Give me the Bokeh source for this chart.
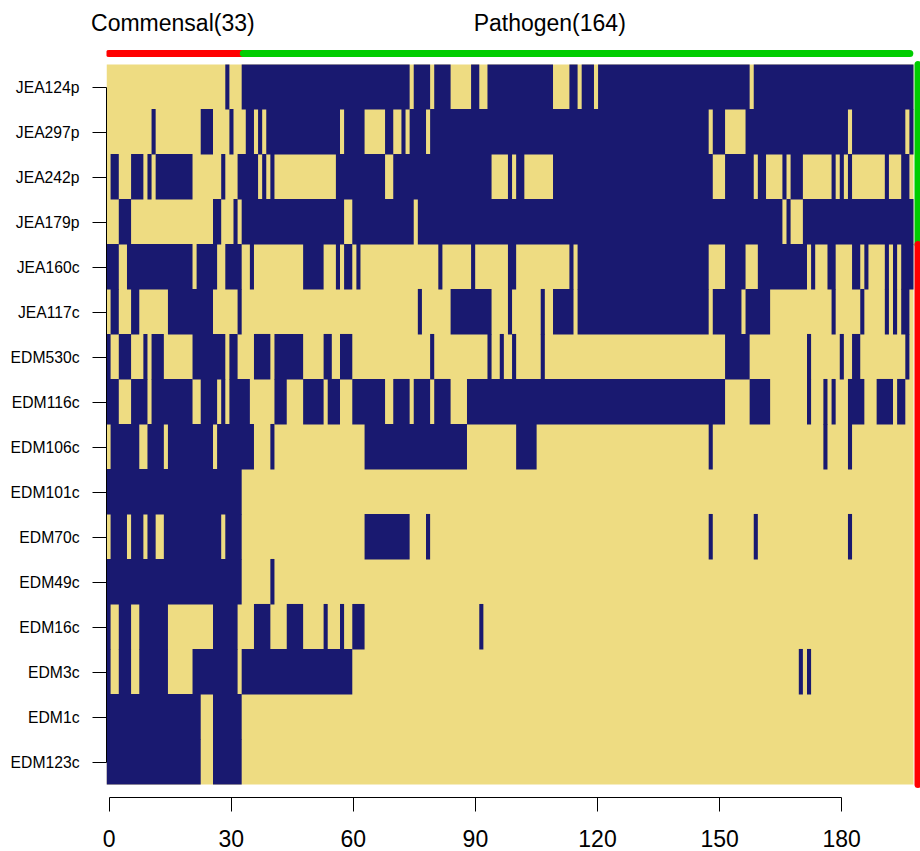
from bokeh.plotting import figure
from bokeh.models import Range1d, LinearAxis, FixedTicker, ColumnDataSource
from bokeh.embed import file_html
from bokeh.resources import INLINE

row_labels = ["JEA124p", "JEA297p", "JEA242p", "JEA179p", "JEA160c", "JEA117c", "EDM530c", "EDM116c",
              "EDM106c", "EDM101c", "EDM70c", "EDM49c", "EDM16c", "EDM3c", "EDM1c", "EDM123c"]
n_cols = 197
n_commensal = 33
x_ticks = [0, 30, 60, 90, 120, 150, 180]
group_labels = ["Commensal(33)", "Pathogen(164)"]
group_label_cols = [16.2, 108.2]

# columns (start, end) of the dark cells, one list per row
JEA124p = [(29,30),(33,74),(75,79),(80,84),(89,91),(93,109),(113,115),(116,119),(120,157),(158,197)]
JEA297p = [(11,12),(23,26),(30,31),(34,36),(37,38),(39,57),(58,63),(68,70),(72,73),(74,78),(79,147),(148,151),(156,181),(182,195),(196,197)]
JEA242p = [(1,3),(6,9),(10,11),(12,21),(28,29),(32,37),(38,39),(40,41),(56,68),(70,94),(98,99),(100,102),(109,148),(151,158),(159,161),(165,166),(167,170),(177,178),(179,180),(181,182),(190,191),(194,196)]
JEA179p = [(3,6),(26,28),(31,32),(33,58),(60,75),(76,165),(166,167),(170,197)]
JEA160c = [(0,3),(5,21),(22,27),(29,33),(35,36),(48,53),(56,57),(58,60),(61,62),(81,82),(89,90),(98,100),(113,114),(115,147),(151,156),(159,171),(172,173),(176,178),(182,184),(185,186),(190,191),(192,193),(194,197)]
JEA117c = [(1,3),(6,8),(15,26),(32,33),(76,77),(84,94),(98,99),(106,107),(109,114),(115,147),(148,155),(156,162),(177,178),(184,185),(190,191),(192,193),(194,196)]
EDM530c = [(0,1),(3,6),(9,10),(11,14),(21,29),(30,32),(36,40),(41,48),(53,55),(57,60),(79,80),(93,94),(96,97),(99,100),(106,107),(151,157),(171,172),(179,180),(182,184),(195,196)]
EDM116c = [(0,3),(6,10),(11,21),(23,27),(28,29),(30,35),(41,44),(48,53),(54,57),(60,68),(70,74),(75,79),(80,84),(88,151),(157,162),(171,172),(175,176),(177,178),(181,185),(188,192),(193,195)]
EDM106c = [(1,8),(10,14),(15,26),(27,36),(40,41),(63,88),(100,105),(147,148),(175,176),(181,182)]
EDM101c = [(0,33)]
EDM70c = [(1,5),(6,9),(10,12),(14,28),(29,33),(63,74),(78,79),(147,148),(158,159),(181,182)]
EDM49c = [(0,33),(40,41)]
EDM16c = [(0,1),(3,6),(8,15),(26,32),(36,40),(44,48),(53,54),(57,58),(60,63),(91,92)]
EDM3c = [(0,1),(3,6),(8,15),(21,32),(33,60),(169,170),(171,172)]
EDM1c = [(0,23),(26,33)]
EDM123c = [(0,23),(26,33)]
rows = [JEA124p, JEA297p, JEA242p, JEA179p, JEA160c, JEA117c, EDM530c, EDM116c,
        EDM106c, EDM101c, EDM70c, EDM49c, EDM16c, EDM3c, EDM1c, EDM123c]

NAVY = "#191970"
GOLD = "#EEDC82"
RED = "#FF0000"
GREEN = "#00CD00"
FONT = "Liberation Sans"

n_rows = len(rows)
col_px = 807 / n_cols
frame_w, frame_h = 814, 757
row_px = 45

p = figure(frame_width=frame_w, frame_height=frame_h, width=920, height=851,
           output_backend="svg", toolbar_location=None,
           x_axis_location=None, y_axis_location=None,
           x_range=Range1d(0, frame_w / col_px),
           y_range=Range1d(-13 / row_px, n_rows + 24 / row_px),
           min_border_left=106, min_border_right=0, min_border_top=40, min_border_bottom=0)
p.grid.visible = False
p.outline_line_color = None
p.background_fill_color = "white"
p.border_fill_color = "white"

# heatmap
p.quad(left=[0], right=[n_cols], bottom=[0], top=[n_rows], fill_color=GOLD, line_color=None)
l, r, b, t = [], [], [], []
seam = 0.012
for i, runs in enumerate(rows):
    for s, e in runs:
        l.append(s); r.append(e); b.append(n_rows - i - 1)
        t.append(n_rows - i + (seam if i else 0))
p.quad(source=ColumnDataSource(dict(l=l, r=r, b=b, t=t)),
       left="l", right="r", bottom="b", top="t", fill_color=NAVY, line_color=None)

# class bars
bar_y = (784 - 53) / row_px
p.line([0.6, n_commensal + 1], [bar_y, bar_y], line_color=RED, line_width=7, line_cap="round")
p.line([n_commensal + 0.4, n_cols - 0.9], [bar_y, bar_y], line_color=GREEN, line_width=7, line_cap="round")
side_x = n_cols + 4.5 / col_px
p.line([side_x, side_x], [12, n_rows], line_color=GREEN, line_width=7, line_cap="round")
p.line([side_x, side_x], [0, 12], line_color=RED, line_width=7, line_cap="round")

# group titles, as a bare axis above the frame
ta = LinearAxis(ticker=FixedTicker(ticks=group_label_cols))
ta.major_label_overrides = {c: s for c, s in zip(group_label_cols, group_labels)}
ta.axis_line_color = None
ta.major_tick_line_color = None
ta.minor_tick_line_color = None
ta.major_tick_out = 0
ta.major_tick_in = 0
ta.minor_tick_out = 0
ta.minor_tick_in = 0
ta.major_label_standoff = 5
ta.major_label_orientation = "horizontal"
ta.major_label_text_font = FONT
ta.major_label_text_font_size = "23px"
ta.major_label_text_color = "black"
p.add_layout(ta, "above")

# axes
ax_px = 4.07
p.extra_x_ranges["ax"] = Range1d(-2.6 / ax_px, (frame_w - 2.6) / ax_px)
xa = LinearAxis(x_range_name="ax", ticker=FixedTicker(ticks=x_ticks), bounds=(0, 180))
xa.major_tick_out = 14
xa.major_tick_in = 0
xa.minor_tick_out = 0
xa.minor_tick_in = 0
xa.major_label_standoff = 18
xa.major_label_text_font = FONT
xa.major_label_text_font_size = "23px"
xa.major_label_text_color = "black"
xa.axis_line_color = "black"
xa.major_tick_line_color = "black"
p.add_layout(xa, "below")

centers = [n_rows - i - 0.5 for i in range(n_rows)]
ya = LinearAxis(ticker=FixedTicker(ticks=centers), bounds=(centers[-1], centers[0]))
ya.major_label_overrides = {c: lab for c, lab in zip(centers, row_labels)}
ya.major_tick_out = 14
ya.major_tick_in = 0
ya.minor_tick_out = 0
ya.minor_tick_in = 0
ya.major_label_standoff = 13
ya.major_label_orientation = "horizontal"
ya.major_label_text_font = FONT
ya.major_label_text_font_size = "15.7px"
ya.major_label_text_color = "black"
ya.axis_line_color = "black"
ya.major_tick_line_color = "black"
p.add_layout(ya, "left")

open("out.html", "w").write(file_html(p, INLINE))
